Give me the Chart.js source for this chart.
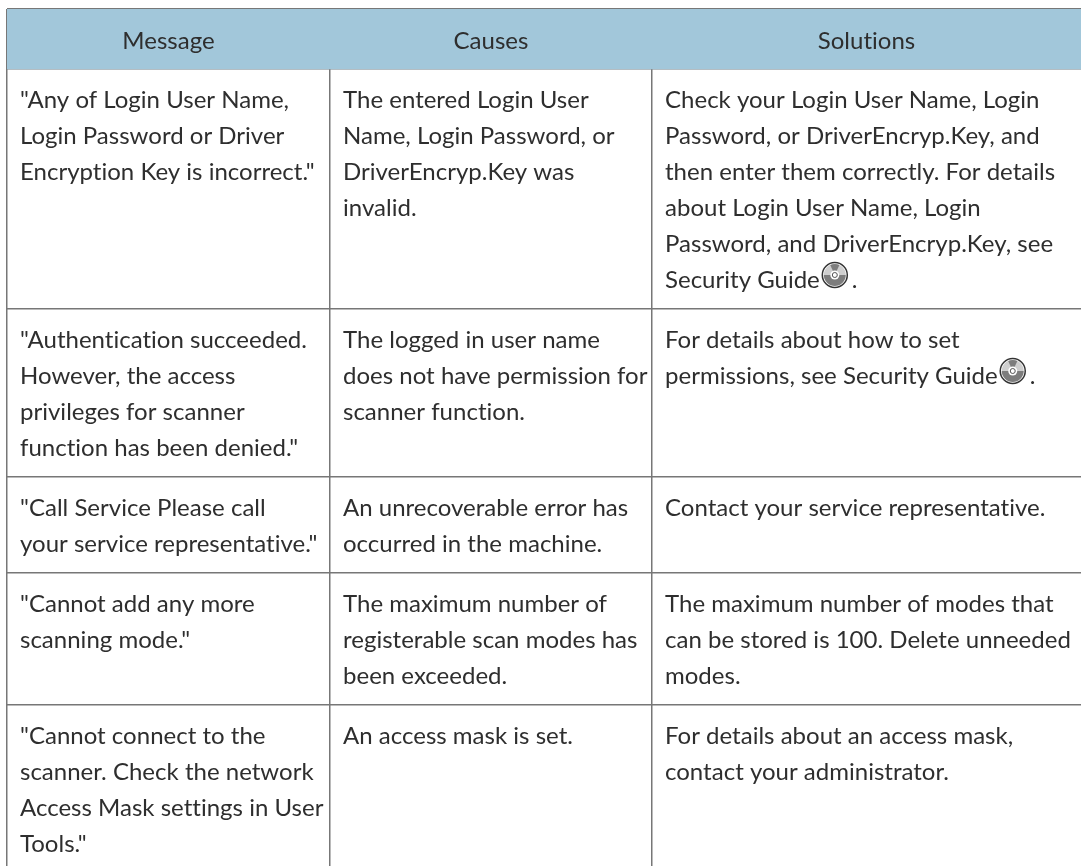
<!DOCTYPE html>
<html><head><meta charset="utf-8">
<style>html,body{margin:0;padding:0;background:#fff;overflow:hidden}canvas{display:block}</style>
<script src="https://cdn.jsdelivr.net/npm/chart.js@4"></script></head>
<body><canvas id="c" width="1081" height="866"></canvas>
<script>
const columns = ["Message","Causes","Solutions"];
const columnEdges = [7,330,652,1081];
const rowEdges = [9,69,309,477,573,705];
const tableBottom = 866;
const rows = [
 [['"Any of Login User Name,','Login Password or Driver','Encryption Key is incorrect."'],['The entered Login User','Name, Login Password, or','DriverEncryp.Key was','invalid.'],['Check your Login User Name, Login','Password, or DriverEncryp.Key, and','then enter them correctly. For details','about Login User Name, Login','Password, and DriverEncryp.Key, see','Security Guide@.']],
 [['"Authentication succeeded.','However, the access','privileges for scanner','function has been denied."'],['The logged in user name','does not have permission for','scanner function.'],['For details about how to set','permissions, see Security Guide@.']],
 [['"Call Service Please call','your service representative."'],['An unrecoverable error has','occurred in the machine.'],['Contact your service representative.']],
 [['"Cannot add any more','scanning mode."'],['The maximum number of','registerable scan modes has','been exceeded.'],['The maximum number of modes that','can be stored is 100. Delete unneeded','modes.']],
 [['"Cannot connect to the','scanner. Check the network','Access Mask settings in User','Tools."'],['An access mask is set.'],['For details about an access mask,','contact your administrator.']]
];
const headerFill="#a2c7da", lineCol="#777777", textCol="#2e2e2e";
const font='24px Lato';
function disc(g,cx,cy){
 g.save();
 g.fillStyle='#fff';g.beginPath();g.arc(cx,cy,13,0,7);g.fill();
 g.fillStyle='#cfcfcf';g.beginPath();g.arc(cx,cy,11,Math.PI,0);g.fill();
 g.fillStyle='#7d7d7d';g.beginPath();g.arc(cx,cy,11,0,Math.PI);g.fill();
 g.beginPath();g.moveTo(cx,cy);g.arc(cx,cy,11,-2,-1.14);g.closePath();g.fill();
 g.strokeStyle='#333';g.lineWidth=1.5;g.beginPath();g.arc(cx,cy,12.5,0,7);g.stroke();
 g.fillStyle='#fff';g.beginPath();g.arc(cx,cy,4.5,0,7);g.fill();
 g.strokeStyle='#555';g.lineWidth=1;g.beginPath();g.arc(cx,cy,2.5,0,7);g.stroke();
 g.restore();
}
const tablePlugin={id:'tbl',afterDatasetsDraw(ch){
 const g=ch.ctx,x=ch.scales.x,y=ch.scales.y;
 g.save();g.fillStyle=textCol;g.font=font;g.textBaseline='alphabetic';
 if('letterSpacing' in g) g.letterSpacing='0.01px';
 columns.forEach((t,i)=>{g.textAlign='center';g.fillText(t,(x.getPixelForValue(columnEdges[i])+x.getPixelForValue(columnEdges[i+1]))/2,y.getPixelForValue(49));});
 g.textAlign='left';
 rows.forEach((r,ri)=>r.forEach((cell,ci)=>cell.forEach((ln,li)=>{
  const px=x.getPixelForValue(columnEdges[ci]+13),py=y.getPixelForValue(rowEdges[ri+1]+39+li*36);
  const k=ln.indexOf('@');
  if(k<0){g.fillText(ln,px,py);return;}
  const a=ln.slice(0,k);g.fillText(a,px,py);
  const w=g.measureText(a).width,cx=px+w+15;
  disc(g,cx,py-13);
  g.fillText('.',cx+17,py);
 })));
 g.restore();
}};
new Chart(document.getElementById('c'),{type:'bar',
 data:{labels:["header"],datasets:[{data:[{x:[columnEdges[0],columnEdges[3]],y:(rowEdges[0]+rowEdges[1])/2}],backgroundColor:headerFill,borderWidth:0,barThickness:rowEdges[1]-rowEdges[0]}]},
 options:{indexAxis:'y',responsive:false,animation:false,layout:{padding:{left:7,top:9,right:0,bottom:0}},
  plugins:{legend:{display:false},tooltip:{enabled:false}},
  scales:{
   x:{type:'linear',min:7,max:1081,position:'top',offset:false,border:{display:false},ticks:{display:false},afterFit(a){a.height=0;},
      afterBuildTicks(a){a.ticks=columnEdges.slice(0,3).map(v=>({value:v}));},grid:{offset:false,color:lineCol,lineWidth:1.5,drawTicks:false}},
   y:{type:'linear',min:9,max:tableBottom,reverse:true,offset:false,border:{display:false},ticks:{display:false},afterFit(a){a.width=0;},
      afterBuildTicks(a){a.ticks=rowEdges.map(v=>({value:v}));},grid:{offset:false,color:lineCol,lineWidth:1.5,drawTicks:false}}
  }},
 plugins:[tablePlugin]});
</script></body></html>
